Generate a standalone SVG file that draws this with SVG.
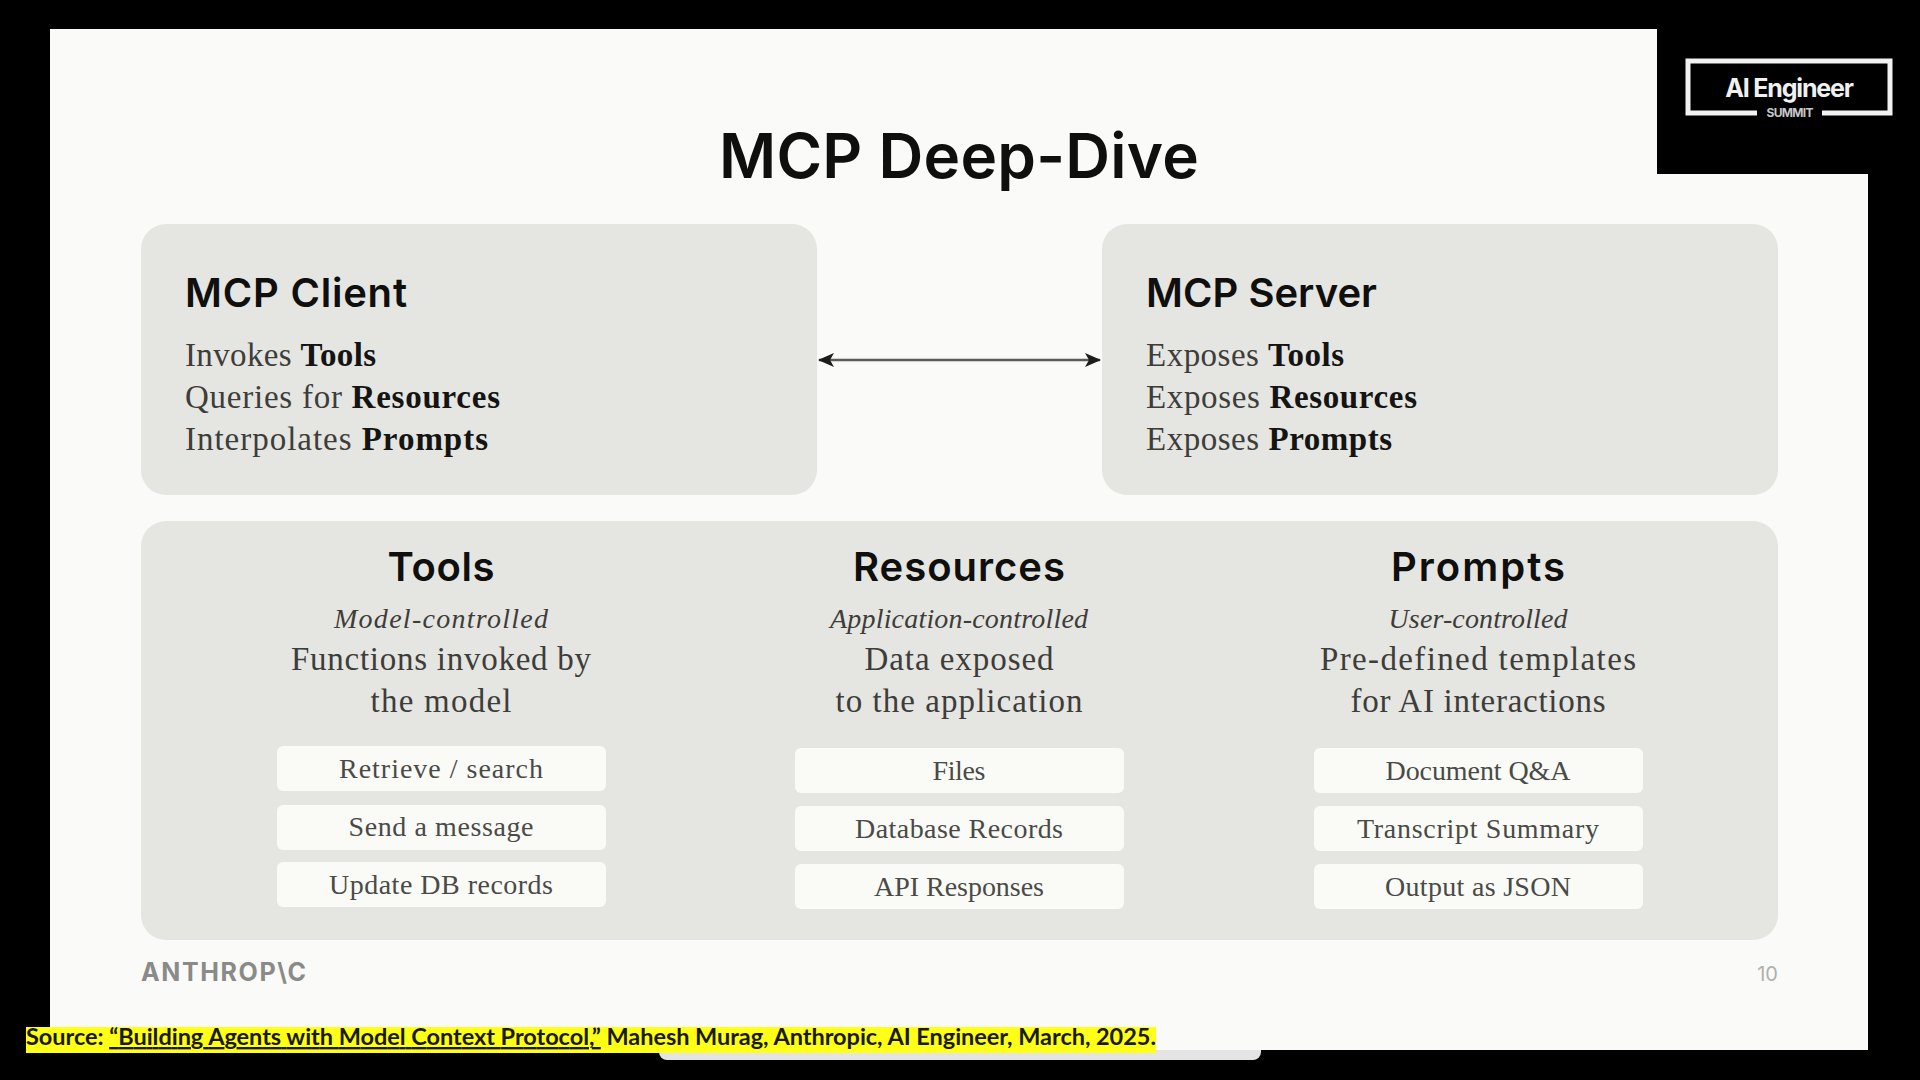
<svg xmlns="http://www.w3.org/2000/svg" width="1920" height="1080" viewBox="0 0 1920 1080">
<style>
.h{font-family:Inter,"Open Sans","Liberation Sans",sans-serif;font-weight:600;fill:#0f0f0e}
.b{font-family:"Liberation Serif",serif;font-size:33px;fill:#3d3d3a}
.b tspan{font-weight:700;fill:#141413}
.c{text-anchor:middle}
.i{font-style:italic;font-size:28px}
.p{font-size:28px;fill:#4a4a47;text-anchor:middle}
.panel{fill:#e5e5e1}
.pill{fill:#fafaf7}
.s{font-family:Lato,"Liberation Sans",sans-serif;font-weight:700;font-size:23.5px;fill:#1a1a00}
</style>
<defs>
<marker id="ah" viewBox="0 0 16 14" refX="15" refY="7" markerWidth="16" markerHeight="14" markerUnits="userSpaceOnUse" orient="auto-start-reverse"><path d="M0 0L16 7L0 14L4 7Z" fill="#1c1c1a"/></marker>
</defs>
<rect width="1920" height="1080" fill="#000"/>
<rect id="scrollbar" x="659" y="1030" width="602" height="30" rx="8" fill="#e4e4e4"/>
<path id="slide" d="M50 29H1657V174H1868V1050H50Z" fill="#fafaf8"/>
<g id="logo">
<path d="M1757 113H1688V61H1890V113H1822" fill="none" stroke="#f2f2f2" stroke-width="5"/>
<text x="1789" y="97" text-anchor="middle" font-family="Inter,sans-serif" font-weight="700" font-size="25" letter-spacing="-1.2" fill="#f0f0f0">AI Engineer</text>
<text x="1790" y="117" text-anchor="middle" font-family="Inter,sans-serif" font-weight="700" font-size="12" textLength="47" fill="#c8c8c8">SUMMIT</text>
</g>
<text id="title" class="h c" x="959" y="178" font-size="62" textLength="480">MCP Deep-Dive</text>
<g id="client">
<rect class="panel" x="141" y="224" width="676" height="271" rx="25"/>
<text class="h" x="185" y="307" font-size="40" textLength="222">MCP Client</text>
<text class="b" x="185" y="366" textLength="191">Invokes <tspan>Tools</tspan></text>
<text class="b" x="185" y="408" textLength="315">Queries for <tspan>Resources</tspan></text>
<text class="b" x="185" y="450" textLength="303">Interpolates <tspan>Prompts</tspan></text>
</g>
<g id="server">
<rect class="panel" x="1102" y="224" width="676" height="271" rx="25"/>
<text class="h" x="1146" y="307" font-size="40" textLength="231">MCP Server</text>
<text class="b" x="1146" y="366" textLength="198">Exposes <tspan>Tools</tspan></text>
<text class="b" x="1146" y="408" textLength="271">Exposes <tspan>Resources</tspan></text>
<text class="b" x="1146" y="450" textLength="246">Exposes <tspan>Prompts</tspan></text>
</g>
<g id="connectors">
<line x1="819" y1="360" x2="1100" y2="360" stroke="#5a5a58" stroke-width="2.5" marker-start="url(#ah)" marker-end="url(#ah)"/>
</g>
<rect id="lower-panel" class="panel" x="141" y="521" width="1637" height="419" rx="25"/>
<g id="tools">
<text class="h c" x="441" y="581" font-size="40" textLength="107">Tools</text>
<text class="b c i" x="441" y="628" textLength="214">Model-controlled</text>
<text class="b c" x="441" y="670" textLength="300">Functions invoked by</text>
<text class="b c" x="441" y="712" textLength="141">the model</text>
</g>
<g id="tools-items">
<rect class="pill" x="277" y="746" width="329" height="45" rx="6"/><text class="b p" x="441" y="778" textLength="204">Retrieve / search</text>
<rect class="pill" x="277" y="805" width="329" height="45" rx="6"/><text class="b p" x="441" y="836" textLength="185">Send a message</text>
<rect class="pill" x="277" y="862" width="329" height="45" rx="6"/><text class="b p" x="441" y="894" textLength="224">Update DB records</text>
</g>
<g id="resources">
<text class="h c" x="959" y="581" font-size="40" textLength="212">Resources</text>
<text class="b c i" x="959" y="628" textLength="258">Application-controlled</text>
<text class="b c" x="959" y="670" textLength="189">Data exposed</text>
<text class="b c" x="959" y="712" textLength="247">to the application</text>
</g>
<g id="resources-items">
<rect class="pill" x="795" y="748" width="329" height="45" rx="6"/><text class="b p" x="959" y="780" textLength="53">Files</text>
<rect class="pill" x="795" y="806" width="329" height="45" rx="6"/><text class="b p" x="959" y="838" textLength="208">Database Records</text>
<rect class="pill" x="795" y="864" width="329" height="45" rx="6"/><text class="b p" x="959" y="896" textLength="170">API Responses</text>
</g>
<g id="prompts">
<text class="h c" x="1478" y="581" font-size="40" textLength="174">Prompts</text>
<text class="b c i" x="1478" y="628" textLength="179">User-controlled</text>
<text class="b c" x="1478" y="670" textLength="316">Pre-defined templates</text>
<text class="b c" x="1478" y="712" textLength="255">for AI interactions</text>
</g>
<g id="prompts-items">
<rect class="pill" x="1314" y="748" width="329" height="45" rx="6"/><text class="b p" x="1478" y="780" textLength="185">Document Q&amp;A</text>
<rect class="pill" x="1314" y="806" width="329" height="45" rx="6"/><text class="b p" x="1478" y="838" textLength="242">Transcript Summary</text>
<rect class="pill" x="1314" y="864" width="329" height="45" rx="6"/><text class="b p" x="1478" y="896" textLength="186">Output as JSON</text>
</g>
<text id="brand" x="141" y="981" font-family="Inter,sans-serif" font-weight="700" font-size="25" textLength="165" fill="#8a8a88">ANTHROP\C</text>
<text id="page" x="1778" y="981" text-anchor="end" font-family="Inter,sans-serif" font-size="20" fill="#b0b0ae">10</text>
<g id="source">
<rect x="26" y="1027" width="1130" height="26" fill="#ffff17"/>
<text class="s" x="26" y="1045" textLength="1130">Source: <tspan text-decoration="underline">“Building Agents with Model Context Protocol,”</tspan> Mahesh Murag, Anthropic, AI Engineer, March, 2025.</text>
</g>
</svg>
